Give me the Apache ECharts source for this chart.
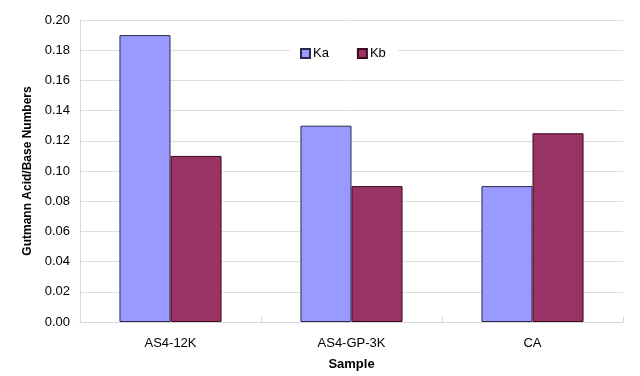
<!DOCTYPE html>
<html>
<head>
<meta charset="utf-8">
<script src="https://cdn.jsdelivr.net/npm/echarts@6/dist/echarts.min.js"></script>
<style>
  html, body { margin: 0; padding: 0; background: #fff; }
  #chart { width: 640px; height: 376px; }
</style>
</head>
<body>
<div id="chart"></div>
<script>
// data
var samples = ['AS4-12K', 'AS4-GP-3K', 'CA'];
var kaValues = [0.19, 0.13, 0.09];
var kbValues = [0.11, 0.09, 0.125];
var yTicks = { min: 0, max: 0.2, interval: 0.02 };

var myChart = echarts.init(document.getElementById('chart'));

var option = {
    backgroundColor: '#fff',
    textStyle: { fontFamily: 'Liberation Sans, Arial, sans-serif' },
    animation: false,
    legend: {
        data: ['Ka', 'Kb'],
        top: 44,
        left: 290,
        itemWidth: 9,
        itemHeight: 9,
        itemGap: 28,
        padding: [3, 12, 3, 10],
        backgroundColor: '#fff',
        icon: 'rect',
        textStyle: { fontSize: 13, color: '#000', padding: [0, 0, 0, -2] }
    },
    grid: {
        left: 80,
        right: 17,
        top: 20,
        bottom: 51
    },
    xAxis: {
        type: 'category',
        data: samples,
        name: 'Sample',
        nameLocation: 'middle',
        nameGap: 36,
        nameTextStyle: { fontWeight: 'bold', fontSize: 13, color: '#000' },
        axisLine: { lineStyle: { color: '#d8d8d8' } },
        axisTick: { show: true, inside: true, length: 5, lineStyle: { color: '#d8d8d8' } },
        axisLabel: { fontSize: 13, color: '#000', margin: 15 }
    },
    yAxis: {
        type: 'value',
        min: yTicks.min,
        max: yTicks.max,
        interval: yTicks.interval,
        name: 'Gutmann Acid/Base Numbers',
        nameLocation: 'middle',
        nameGap: 46,
        nameTextStyle: { fontWeight: 'bold', fontSize: 12, color: '#000' },
        axisLine: { show: true, lineStyle: { color: '#d8d8d8' } },
        axisTick: { show: false },
        axisLabel: {
            fontSize: 13,
            color: '#000',
            margin: 10,
            formatter: function (v) { return v.toFixed(2); }
        },
        splitLine: { lineStyle: { color: '#dedede' } }
    },
    series: [
        {
            name: 'Ka',
            type: 'bar',
            data: kaValues,
            barGap: '0%',
            barCategoryGap: '43.6%',
            itemStyle: { color: '#9999ff', borderColor: '#2a2a48', borderWidth: 1 }
        },
        {
            name: 'Kb',
            type: 'bar',
            data: kbValues,
            itemStyle: { color: '#993366', borderColor: '#3a0a1e', borderWidth: 1 }
        }
    ]
};

myChart.setOption(option);
</script>
</body>
</html>
